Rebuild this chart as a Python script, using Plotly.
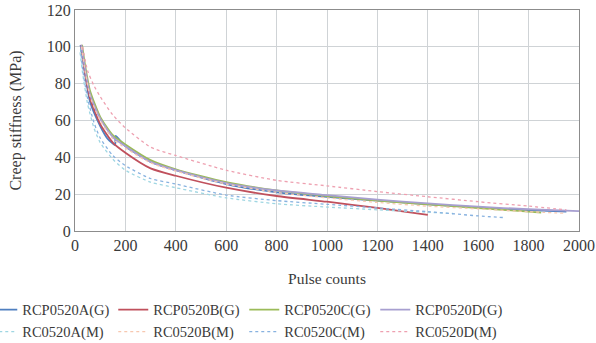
import plotly.graph_objects as go

# ---- data ----
names = ["RCP0520A(G)", "RCP0520B(G)", "RCP0520C(G)", "RCP0520D(G)",
         "RC0520A(M)", "RC0520B(M)", "RC0520C(M)", "RC0520D(M)"]

a_g_x = [22, 40, 60, 100, 130, 159, 161, 200, 300, 400, 600, 800, 1000, 1200, 1400, 1600, 1800, 1950]
a_g_y = [101, 85, 70, 57, 50, 46.7, 51.6, 46, 37.5, 33, 25.5, 21, 18.5, 16.5, 14.5, 12.8, 11.3, 10.6]

b_g_x = [25, 40, 60, 100, 150, 200, 300, 400, 600, 800, 1000, 1200, 1400]
b_g_y = [101, 86, 72, 58, 48, 42.5, 34, 30, 23.5, 19, 15.9, 12.5, 8.8]

c_g_x = [28, 40, 60, 100, 150, 200, 300, 400, 600, 800, 1000, 1200, 1400, 1600, 1800, 1850]
c_g_y = [101, 90, 76, 62, 52, 47, 38.5, 33.5, 26.5, 22, 19, 16.5, 14.5, 12.5, 10.5, 10]

d_g_x = [25, 40, 60, 100, 150, 200, 300, 400, 600, 800, 1000, 1200, 1400, 1600, 1800, 2000]
d_g_y = [101, 88, 74, 61, 51, 46, 37.5, 33, 26, 22, 19.5, 17, 15, 13.2, 11.8, 10.8]

a_m_x = [20, 30, 50, 75, 100, 150, 200, 300, 400, 600, 800, 1000, 1200, 1400, 1500]
a_m_y = [97, 86, 69, 56, 48, 39, 33, 26.5, 23.5, 18, 14.8, 13, 11.5, 10.2, 9.5]

b_m_x = [25, 40, 60, 100, 150, 200, 300, 400, 600, 800, 1000, 1200, 1400, 1600, 1800, 1950]
b_m_y = [100, 87, 73, 60, 50, 45, 37, 32.5, 25.5, 21, 18, 15.5, 13.5, 12, 10.5, 9.6]

c_m_x = [22, 30, 50, 75, 100, 150, 200, 300, 400, 600, 800, 1000, 1200, 1400, 1600, 1700]
c_m_y = [99, 88, 72, 59, 50.5, 41, 35.5, 28.5, 25.5, 19.5, 16.5, 14.5, 12.5, 10.5, 8.2, 7.3]

d_m_x = [30, 50, 75, 100, 150, 200, 300, 400, 600, 800, 1000, 1200, 1400, 1600, 1800, 1950]
d_m_y = [100, 87, 79, 73, 63, 56, 45.5, 41, 33, 27.5, 24.5, 21.4, 18.6, 15.9, 13.5, 11.5]

x_ticks = [0, 200, 400, 600, 800, 1000, 1200, 1400, 1600, 1800, 2000]
y_ticks = [0, 20, 40, 60, 80, 100, 120]

series_x = [a_g_x, b_g_x, c_g_x, d_g_x, a_m_x, b_m_x, c_m_x, d_m_x]
series_y = [a_g_y, b_g_y, c_g_y, d_g_y, a_m_y, b_m_y, c_m_y, d_m_y]
colors = ["#4f7fc0", "#c0505c", "#9bbb59", "#a79fd0",
          "#9fd6e2", "#f7c8b0", "#88b2e0", "#eea0b0"]
dashes = ["solid"] * 4 + ["dot"] * 4
widths = [1.8, 1.8, 1.8, 1.8, 1.3, 1.3, 1.3, 1.3]

FONT = "'Liberation Serif', 'Times New Roman', serif"
TXT = "#3a3a3a"

fig = go.Figure()
for n, xs, ys, c, d, w in zip(names, series_x, series_y, colors, dashes, widths):
    fig.add_trace(go.Scatter(x=xs, y=ys, mode="lines", name=n,
                             line=dict(color=c, dash=d, width=w, shape="spline", smoothing=0.6)))

fig.update_layout(
    width=596, height=343,
    margin=dict(l=75, r=17, t=10, b=112, autoexpand=False),
    paper_bgcolor="white", plot_bgcolor="white",
    font=dict(family=FONT, size=15, color=TXT),
    showlegend=True,
    legend=dict(orientation="h", x=-0.184, xanchor="left", y=-0.284, yanchor="top",
                entrywidth=86, entrywidthmode="pixels",
                font=dict(family=FONT, size=14.5, color=TXT),
                itemwidth=30, tracegroupgap=0, bgcolor="rgba(0,0,0,0)"),
)
fig.update_xaxes(range=[0, 2000], tickvals=x_ticks, showgrid=True, gridcolor="#cfd3d6",
                 gridwidth=1, showline=True, linecolor="#8c8c8c", linewidth=1, mirror=True,
                 zeroline=False, ticks="", tickfont=dict(family=FONT, size=16, color=TXT),
                 title=dict(text="Pulse counts", font=dict(family=FONT, size=15.5, color=TXT),
                            standoff=19))
fig.update_yaxes(range=[0, 120], tickvals=y_ticks, showgrid=True, gridcolor="#cfd3d6",
                 gridwidth=1, showline=True, linecolor="#8c8c8c", linewidth=1, mirror=True,
                 zeroline=False, ticks="", tickfont=dict(family=FONT, size=16, color=TXT),
                 title=dict(text="Creep stiffness (MPa)", font=dict(family=FONT, size=16, color=TXT),
                            standoff=21))

fig.write_html("out.html")
